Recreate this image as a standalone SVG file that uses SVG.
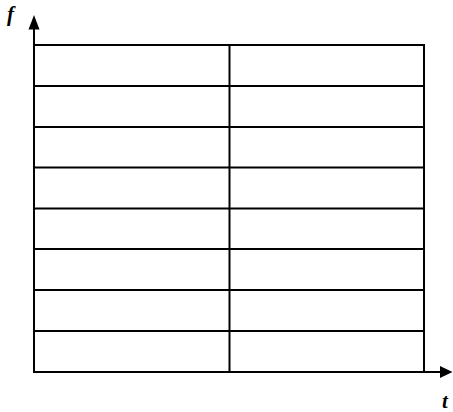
<svg xmlns="http://www.w3.org/2000/svg" width="453" height="412" viewBox="0 0 453 412">
<style>
.ln{stroke:#000;stroke-width:2;fill:none}
.lbl{font-family:'Liberation Serif','DejaVu Serif',serif;font-style:italic;font-weight:bold;font-size:21px;fill:#000}
</style>
<rect width="453" height="412" fill="#fff"/>
<g id="grid">
<rect class="ln" x="34" y="45" width="390" height="327"/>
<line class="ln" x1="229.5" y1="45" x2="229.5" y2="372"/>
<line class="ln" x1="34" y1="86" x2="424" y2="86"/>
<line class="ln" x1="34" y1="127" x2="424" y2="127"/>
<line class="ln" x1="34" y1="167.5" x2="424" y2="167.5"/>
<line class="ln" x1="34" y1="208.5" x2="424" y2="208.5"/>
<line class="ln" x1="34" y1="249" x2="424" y2="249"/>
<line class="ln" x1="34" y1="290" x2="424" y2="290"/>
<line class="ln" x1="34" y1="331" x2="424" y2="331"/>
</g>
<g id="axes">
<line class="ln" x1="34" y1="372" x2="34" y2="26"/>
<polygon points="34,15 28.5,29.5 39.5,29.5" fill="#000"/>
<line class="ln" x1="33" y1="372" x2="442" y2="372"/>
<polygon points="452.5,372 440,366 440,378" fill="#000"/>
</g>
<text class="lbl" x="7" y="21">f</text>
<text class="lbl" x="442" y="408" font-size="19">t</text>
</svg>
